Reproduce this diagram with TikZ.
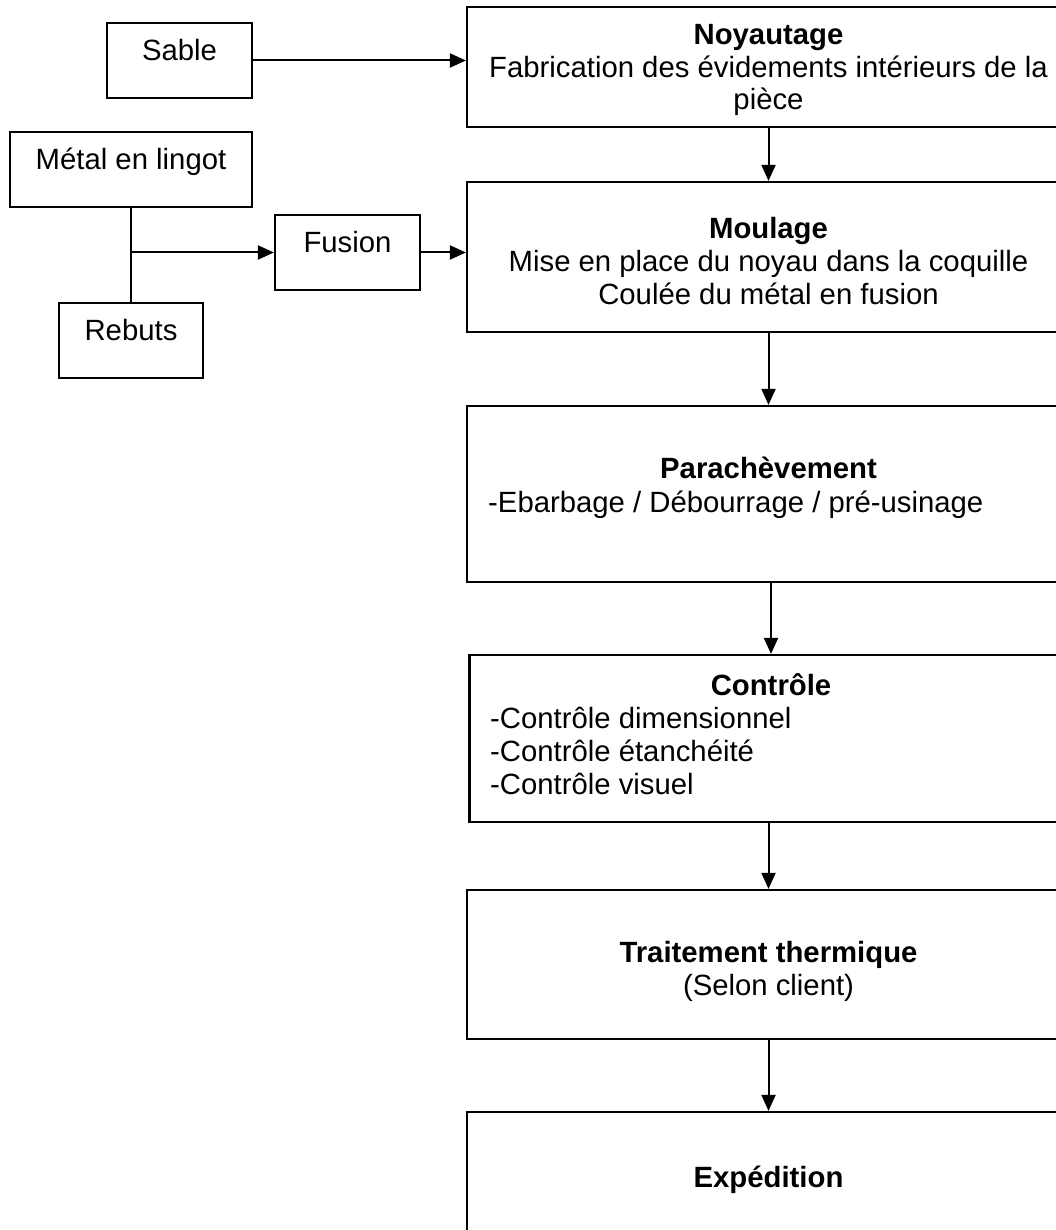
\documentclass[tikz,border=0pt]{standalone}
\usepackage{fontspec}
\setmainfont{Liberation Sans}
\usetikzlibrary{arrows.meta}
\tikzset{
  box/.style={draw, line width=2.2pt, inner sep=0pt},
  txt/.style={inner sep=0pt, font=\fontsize{29.3}{32.8}\selectfont},
  flow/.style={line width=2pt, -{Triangle[length=16pt,width=14pt]}},
}
\begin{document}
\begin{tikzpicture}[x=1pt, y=-1pt]
\useasboundingbox (0,0) rectangle (1056,1230);
% boites de gauche
\node[box, minimum width=145pt, minimum height=75pt] (sable) at (179.5,60.5) {};
\node[box, minimum width=242pt, minimum height=75pt] (metal) at (131,169.5) {};
\node[box, minimum width=145pt, minimum height=75pt] (fusion) at (347.5,252.5) {};
\node[box, minimum width=144pt, minimum height=75pt] (rebuts) at (131,340.5) {};
\node[txt, anchor=base] (sableT) at (sable.center) {Sable};
\node[txt, anchor=base] (metalT) at (metal.center) {Métal en lingot};
\node[txt, anchor=base] (fusionT) at (fusion.center) {Fusion};
\node[txt, anchor=base] (rebutsT) at (rebuts.center) {Rebuts};
% etapes
\node[box, minimum width=603pt, minimum height=120pt] (noyau) at (768.5,67) {};
\node[box, minimum width=603pt, minimum height=150pt] (moulage) at (768.5,257) {};
\node[box, minimum width=603pt, minimum height=176pt] (para) at (768.5,494) {};
\node[box, minimum width=603pt, minimum height=167pt] (controle) at (771,738.5) {};
\node[box, minimum width=603pt, minimum height=149pt] (traitement) at (768.5,964.5) {};
\node[box, minimum width=603pt, minimum height=160pt] (expedition) at (768.5,1192) {};
\node[txt, align=center, anchor=north] (noyauT) at (768.5,24)
    {\textbf{Noyautage}\\Fabrication des évidements intérieurs de la\\pièce};
\node[txt, align=center, anchor=north] (moulageT) at (768.5,217)
    {\textbf{Moulage}\\Mise en place du noyau dans la coquille\\Coulée du métal en fusion};
\node[txt, anchor=base] (paraT) at (768.5,478) {\textbf{Parachèvement}};
\node[txt, anchor=base west] (paraL) at (488,512) {-Ebarbage / Débourrage / pré-usinage};
\node[txt, anchor=base] (controleT) at (771,695) {\textbf{Contrôle}};
\node[txt, align=left, anchor=north west] (controleL) at (490,707)
    {-Contrôle dimensionnel\\-Contrôle étanchéité\\-Contrôle visuel};
\node[txt, align=center, anchor=north] (traitementT) at (768.5,941)
    {\textbf{Traitement thermique}\\(Selon client)};
\node[txt, anchor=base] (expeditionT) at (768.5,1187) {\textbf{Expédition}};
% liaisons
\draw[flow] (sable.east) -- (sable.east -| noyau.west);
\draw[line width=2pt] (metal.south) -- (rebuts.north);
\draw[flow] (metal.south |- fusion.west) -- (fusion.west);
\draw[flow] (fusion.east) -- (fusion.east -| moulage.west);
\draw[flow] (noyau.south) -- (moulage.north);
\draw[flow] (moulage.south) -- (para.north);
\draw[flow] (controle.north |- para.south) -- (controle.north);
\draw[flow] (traitement.north |- controle.south) -- (traitement.north);
\draw[flow] (traitement.south) -- (expedition.north);
\end{tikzpicture}
\end{document}
